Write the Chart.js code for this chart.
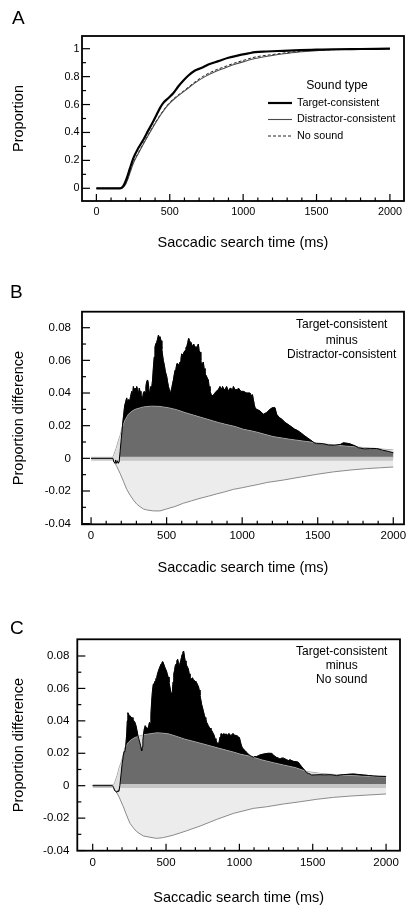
<!DOCTYPE html>
<html>
<head>
<meta charset="utf-8">
<script src="https://cdn.jsdelivr.net/npm/chart.js@4.4.1/dist/chart.umd.min.js"></script>
<style>
  html, body { margin: 0; padding: 0; background: #fff; }
  body { width: 406px; height: 910px; position: relative; overflow: hidden; }
  canvas { position: absolute; left: 0; }
</style>
</head>
<body>
<canvas id="chartA" width="406" height="260" style="top:0px"></canvas>
<canvas id="chartB" width="406" height="310" style="top:270px"></canvas>
<canvas id="chartC" width="406" height="330" style="top:580px"></canvas>
<script>
// ---- tick values / labels ----
const xTicks = [0, 500, 1000, 1500, 2000];
const xTickLabels = ["0", "500", "1000", "1500", "2000"];
const xMinor = [100, 200, 300, 400, 600, 700, 800, 900, 1100, 1200, 1300, 1400, 1600, 1700, 1800, 1900];
const propTicks = [0, 0.2, 0.4, 0.6, 0.8, 1];
const propTickLabels = ["0", "0.2", "0.4", "0.6", "0.8", "1"];
const propMinor = [0.1, 0.3, 0.5, 0.7, 0.9];
const diffTicks = [-0.04, -0.02, 0, 0.02, 0.04, 0.06, 0.08];
const diffTickLabels = ["-0.04", "-0.02", "0", "0.02", "0.04", "0.06", "0.08"];
const diffMinor = [-0.03, -0.01, 0.01, 0.03, 0.05, 0.07];

// ---- panel A: cumulative proportions ----
const tcMs = [0, 161, 184, 207, 229, 252, 286, 320, 354, 388, 411, 434, 456, 491, 525, 559, 593, 627, 672, 718, 763, 831, 899, 967, 1035, 1081, 1160, 1274, 1387, 1500, 1614, 1800, 2000];
const tcProp = [0, 0, 0.017, 0.072, 0.144, 0.216, 0.288, 0.348, 0.415, 0.48, 0.528, 0.576, 0.612, 0.647, 0.683, 0.731, 0.772, 0.808, 0.844, 0.863, 0.887, 0.911, 0.935, 0.952, 0.966, 0.975, 0.98, 0.985, 0.99, 0.993, 0.996, 0.998, 1.0];
const dcMs = [0, 170, 200, 252, 286, 354, 422, 468, 491, 536, 604, 672, 740, 808, 876, 944, 1013, 1081, 1200, 1300, 1400, 1500, 1700, 2000];
const dcProp = [0, 0, 0.03, 0.18, 0.25, 0.38, 0.5, 0.57, 0.6, 0.645, 0.7, 0.755, 0.8, 0.835, 0.862, 0.888, 0.91, 0.93, 0.952, 0.966, 0.978, 0.986, 0.994, 1.0];
const nsMs = [0, 170, 200, 252, 286, 354, 422, 468, 491, 536, 604, 672, 740, 808, 876, 944, 1013, 1081, 1200, 1300, 1400, 1500, 1700, 2000];
const nsProp = [0, 0, 0.035, 0.185, 0.255, 0.385, 0.505, 0.575, 0.605, 0.65, 0.705, 0.762, 0.81, 0.845, 0.872, 0.898, 0.92, 0.94, 0.958, 0.972, 0.982, 0.988, 0.995, 1.0];

// ---- panel B: target-consistent minus distractor-consistent ----
const bDiffMs = [0, 145, 150, 158, 163, 168, 175, 180, 186, 192, 200, 208, 215, 222, 230, 236, 242, 247, 255, 262, 269, 275, 280, 286, 291, 297, 302, 308, 313, 319, 324, 330, 335, 340, 346, 352, 357, 363, 368, 374, 379, 385, 390, 396, 401, 407, 412, 418, 423, 428, 434, 440, 446, 450, 456, 463, 468, 472, 478, 485, 492, 501, 506, 512, 518, 523, 528, 534, 540, 545, 550, 556, 562, 568, 573, 580, 589, 595, 600, 607, 615, 622, 628, 633, 640, 646, 652, 657, 662, 668, 673, 679, 684, 690, 699, 705, 710, 715, 721, 726, 732, 737, 743, 748, 754, 760, 770, 776, 781, 787, 792, 798, 812, 828, 842, 853, 864, 870, 881, 892, 897, 909, 920, 937, 942, 953, 970, 975, 992, 1008, 1030, 1052, 1063, 1068, 1074, 1080, 1085, 1096, 1118, 1140, 1162, 1184, 1200, 1217, 1228, 1245, 1262, 1284, 1300, 1323, 1345, 1367, 1390, 1410, 1433, 1455, 1477, 1493, 1530, 1570, 1610, 1650, 1670, 1710, 1750, 1770, 1810, 1850, 1890, 1930, 1970, 2000];
const bDiff = [0, 0, -0.002, -0.003, -0.001, -0.003, -0.0015, -0.003, -0.002, 0.004, 0.012, 0.02, 0.026, 0.032, 0.035, 0.037, 0.034, 0.036, 0.035, 0.038, 0.041, 0.039, 0.044, 0.041, 0.043, 0.04, 0.044, 0.042, 0.039, 0.043, 0.041, 0.037, 0.038, 0.036, 0.04, 0.041, 0.04, 0.044, 0.047, 0.048, 0.046, 0.04, 0.041, 0.044, 0.043, 0.048, 0.055, 0.062, 0.068, 0.07, 0.071, 0.073, 0.0755, 0.074, 0.0745, 0.072, 0.067, 0.064, 0.06, 0.057, 0.053, 0.05, 0.047, 0.044, 0.042, 0.04, 0.041, 0.043, 0.046, 0.048, 0.051, 0.054, 0.055, 0.058, 0.058, 0.057, 0.059, 0.061, 0.064, 0.063, 0.065, 0.066, 0.068, 0.068, 0.071, 0.0735, 0.072, 0.071, 0.071, 0.069, 0.068, 0.07, 0.069, 0.068, 0.068, 0.069, 0.07, 0.066, 0.065, 0.06, 0.057, 0.058, 0.059, 0.055, 0.051, 0.051, 0.049, 0.048, 0.044, 0.041, 0.04, 0.038, 0.039, 0.041, 0.042, 0.044, 0.042, 0.044, 0.042, 0.043, 0.044, 0.041, 0.043, 0.042, 0.044, 0.042, 0.042, 0.043, 0.041, 0.041, 0.04, 0.04, 0.038, 0.039, 0.036, 0.033, 0.031, 0.03, 0.029, 0.027, 0.028, 0.03, 0.031, 0.031, 0.027, 0.025, 0.024, 0.022, 0.021, 0.0195, 0.018, 0.017, 0.0155, 0.014, 0.0125, 0.011, 0.0095, 0.009, 0.009, 0.0082, 0.008, 0.0085, 0.0095, 0.009, 0.0075, 0.0065, 0.0058, 0.006, 0.006, 0.005, 0.0042, 0.0034];
const bHiMs = [0, 140, 150, 165, 181, 192, 203, 214, 225, 247, 270, 291, 346, 401, 456, 512, 567, 622, 677, 732, 787, 842, 897, 953, 1008, 1052, 1100, 1206, 1316, 1427, 1537, 1647, 1757, 1868, 1950, 2000];
const bHi = [0, 0, 0.002, 0.006, 0.011, 0.014, 0.018, 0.021, 0.0235, 0.027, 0.0288, 0.03, 0.0315, 0.032, 0.0318, 0.031, 0.0298, 0.028, 0.0265, 0.025, 0.0235, 0.022, 0.0207, 0.0195, 0.0178, 0.017, 0.016, 0.0133, 0.0117, 0.0103, 0.009, 0.0078, 0.007, 0.0062, 0.0055, 0.0051];
const bLoMs = [0, 140, 148, 170, 192, 214, 236, 258, 280, 302, 324, 346, 368, 412, 456, 500, 555, 611, 666, 721, 776, 831, 886, 942, 1000, 1052, 1107, 1163, 1272, 1384, 1493, 1603, 1713, 1823, 1910, 2000];
const bLo = [0, 0, -0.001, -0.005, -0.0092, -0.014, -0.019, -0.0225, -0.0255, -0.028, -0.0296, -0.031, -0.0316, -0.0322, -0.0322, -0.031, -0.0295, -0.0275, -0.026, -0.0245, -0.0232, -0.0218, -0.0205, -0.019, -0.018, -0.017, -0.016, -0.0148, -0.0133, -0.0115, -0.0098, -0.0083, -0.0072, -0.0063, -0.0058, -0.0053];

// ---- panel C: target-consistent minus no sound ----
const cDiffMs = [0, 135, 142, 150, 158, 165, 172, 178, 185, 192, 200, 208, 214, 220, 226, 232, 236, 240, 245, 250, 256, 262, 268, 274, 280, 288, 295, 302, 308, 314, 320, 326, 330, 334, 338, 342, 347, 352, 358, 364, 370, 376, 382, 387, 392, 397, 402, 407, 413, 419, 425, 431, 436, 442, 447, 453, 459, 466, 472, 478, 484, 490, 496, 502, 508, 514, 520, 526, 532, 538, 543, 548, 553, 558, 563, 568, 574, 579, 584, 589, 594, 600, 605, 610, 615, 620, 625, 630, 636, 641, 647, 652, 658, 663, 669, 675, 681, 687, 692, 698, 703, 709, 715, 720, 726, 731, 737, 743, 749, 754, 760, 766, 771, 777, 783, 788, 794, 800, 806, 811, 817, 823, 828, 834, 840, 845, 851, 857, 862, 868, 874, 880, 886, 891, 897, 903, 909, 914, 920, 926, 932, 937, 943, 955, 960, 966, 978, 983, 995, 1000, 1007, 1013, 1019, 1025, 1032, 1040, 1050, 1060, 1073, 1085, 1095, 1105, 1118, 1130, 1141, 1164, 1197, 1220, 1232, 1243, 1254, 1266, 1277, 1288, 1300, 1311, 1322, 1334, 1345, 1356, 1368, 1390, 1402, 1413, 1425, 1436, 1448, 1459, 1470, 1482, 1493, 1520, 1550, 1580, 1618, 1640, 1663, 1686, 1709, 1740, 1777, 1800, 1845, 1880, 1913, 1950, 2000];
const cDiff = [0, 0, -0.001, -0.003, -0.0035, -0.004, -0.003, -0.0035, 0, 0.006, 0.013, 0.018, 0.021, 0.0215, 0.025, 0.032, 0.04, 0.045, 0.044, 0.043, 0.043, 0.042, 0.042, 0.041, 0.04, 0.039, 0.037, 0.034, 0.031, 0.029, 0.027, 0.025, 0.023, 0.0215, 0.024, 0.028, 0.032, 0.035, 0.037, 0.036, 0.036, 0.035, 0.037, 0.039, 0.038, 0.044, 0.052, 0.058, 0.0625, 0.063, 0.0645, 0.066, 0.0665, 0.069, 0.0705, 0.072, 0.0735, 0.075, 0.076, 0.0765, 0.075, 0.0735, 0.072, 0.071, 0.069, 0.067, 0.064, 0.061, 0.058, 0.056, 0.058, 0.064, 0.069, 0.071, 0.074, 0.075, 0.077, 0.078, 0.076, 0.074, 0.075, 0.077, 0.079, 0.081, 0.0825, 0.083, 0.08, 0.077, 0.076, 0.074, 0.073, 0.072, 0.069, 0.067, 0.066, 0.066, 0.0665, 0.065, 0.065, 0.0645, 0.064, 0.0635, 0.062, 0.0615, 0.059, 0.056, 0.053, 0.05, 0.048, 0.046, 0.044, 0.042, 0.041, 0.039, 0.038, 0.037, 0.036, 0.0355, 0.035, 0.034, 0.033, 0.032, 0.031, 0.029, 0.028, 0.027, 0.026, 0.0256, 0.027, 0.03, 0.032, 0.032, 0.031, 0.032, 0.032, 0.031, 0.032, 0.032, 0.031, 0.032, 0.032, 0.031, 0.031, 0.032, 0.032, 0.031, 0.031, 0.03, 0.03, 0.0297, 0.027, 0.025, 0.0235, 0.023, 0.022, 0.0215, 0.0205, 0.0195, 0.0185, 0.018, 0.0175, 0.018, 0.018, 0.0185, 0.019, 0.0195, 0.02, 0.0199, 0.019, 0.018, 0.0174, 0.017, 0.0164, 0.017, 0.017, 0.0165, 0.016, 0.0155, 0.016, 0.0155, 0.015, 0.0148, 0.0144, 0.013, 0.0117, 0.0105, 0.0092, 0.008, 0.0076, 0.0072, 0.0066, 0.0067, 0.0068, 0.0067, 0.0068, 0.0066, 0.0062, 0.0066, 0.0068, 0.007, 0.0072, 0.007, 0.0066, 0.0063, 0.006, 0.0058, 0.0057];
const cHiMs = [0, 140, 150, 165, 180, 197, 210, 220, 243, 265, 288, 345, 402, 436, 470, 516, 570, 629, 690, 743, 800, 857, 915, 970, 1004, 1072, 1150, 1232, 1300, 1380, 1459, 1550, 1686, 1800, 1900, 2000];
const cHi = [0, 0, 0.002, 0.006, 0.011, 0.0154, 0.02, 0.0236, 0.0267, 0.0285, 0.0297, 0.0314, 0.0322, 0.0326, 0.0325, 0.032, 0.0305, 0.0287, 0.0273, 0.026, 0.0246, 0.0232, 0.0218, 0.0205, 0.0195, 0.0182, 0.016, 0.0142, 0.0128, 0.0112, 0.0088, 0.0076, 0.0066, 0.0061, 0.0057, 0.0053];
const cLoMs = [0, 140, 152, 180, 209, 230, 254, 277, 300, 345, 391, 436, 482, 550, 641, 732, 845, 959, 1095, 1186, 1300, 1414, 1527, 1641, 1755, 1868, 2000];
const cLo = [0, 0, -0.002, -0.007, -0.013, -0.018, -0.0232, -0.026, -0.0284, -0.031, -0.0318, -0.0325, -0.032, -0.0305, -0.0278, -0.0249, -0.0208, -0.0171, -0.014, -0.013, -0.0113, -0.0099, -0.0084, -0.0072, -0.0064, -0.0058, -0.0051];

// light strip around zero
const bandMs = [0, 2000];
const bandHi = [0.001, 0.001];
const bandLo = [-0.0015, -0.0015];

const FONT = "'Liberation Sans', Arial, Helvetica, sans-serif";
Chart.defaults.font.family = FONT;
Chart.defaults.color = "#000";
Chart.defaults.animation = false;

const pts = (xs, ys) => xs.map((x, i) => ({ x: x, y: ys[i] }));

// frame, inward ticks, panel letter, notes and legend
const decor = {
  id: "decor",
  afterDatasetsDraw(chart, args, o) {
    const { ctx, chartArea: a, scales: { x, y } } = chart;
    ctx.save();
    ctx.strokeStyle = "#000";
    ctx.lineWidth = 1.2;
    const seg = (x1, y1, x2, y2) => { ctx.beginPath(); ctx.moveTo(x1, y1); ctx.lineTo(x2, y2); ctx.stroke(); };
    o.xMajor.forEach(v => { const p = x.getPixelForValue(v); seg(p, a.bottom, p, a.bottom - 7); });
    o.xMinor.forEach(v => { const p = x.getPixelForValue(v); seg(p, a.bottom, p, a.bottom - 3.5); });
    o.yMajor.forEach(v => { const p = y.getPixelForValue(v); seg(a.left, p, a.left + 8, p); });
    o.yMinor.forEach(v => { const p = y.getPixelForValue(v); seg(a.left, p, a.left + 4, p); });
    ctx.lineWidth = 1.8;
    ctx.strokeRect(a.left, a.top, a.right - a.left, a.bottom - a.top);

    ctx.fillStyle = "#000";
    ctx.font = "19px " + FONT;
    ctx.textAlign = "left";
    ctx.textBaseline = "alphabetic";
    ctx.fillText(o.letter.text, o.letter.x, o.letter.y);

    ctx.textAlign = "center";
    ctx.textBaseline = "middle";
    ctx.font = "12px " + FONT;
    (o.notes || []).forEach(n => ctx.fillText(n.text, n.x, n.y));

    if (o.legend) {
      const L = o.legend;
      ctx.font = "12.2px " + FONT;
      ctx.fillText(L.title, L.titleX, L.titleY);
      ctx.font = "10.8px " + FONT;
      ctx.textAlign = "left";
      chart.data.datasets.forEach((ds, i) => {
        const ry = L.rowY[i];
        ctx.strokeStyle = ds.borderColor;
        ctx.lineWidth = ds.borderWidth;
        ctx.setLineDash(ds.borderDash || []);
        seg(L.x1, ry, L.x2, ry);
        ctx.setLineDash([]);
        ctx.fillText(ds.label, L.textX, ry);
      });
    }
    ctx.restore();
  }
};

function scales(p) {
  return {
    x: {
      type: "linear", min: p.xMin, max: p.xMax,
      grid: { display: false, drawTicks: false }, border: { display: false },
      afterBuildTicks: s => { s.ticks = xTicks.map(v => ({ value: v })); },
      afterFit: s => { s.height = p.xAxisH; s.paddingLeft = 0; s.paddingRight = 0; },
      ticks: { padding: p.xPad, font: { size: p.tickSize }, color: "#000", maxRotation: 0,
               callback: (v, i) => xTickLabels[i] },
      title: { display: true, text: "Saccadic search time (ms)", color: "#000",
               font: { size: 14.5 }, padding: { top: 0, bottom: p.xTitlePad } }
    },
    y: {
      type: "linear", min: p.yMin, max: p.yMax,
      grid: { display: false, drawTicks: false }, border: { display: false },
      afterBuildTicks: s => { s.ticks = p.yTicks.map(v => ({ value: v })); },
      afterFit: s => { s.width = p.left; s.paddingTop = 0; s.paddingBottom = 0; },
      ticks: { padding: p.yPad, font: { size: p.tickSize }, color: "#000",
               callback: (v, i) => p.yLabels[i] },
      title: { display: true, text: p.yTitle, color: "#000",
               font: { size: 14.5 }, padding: { top: 10.3, bottom: 0 } }
    }
  };
}

function baseOptions(p, decorOpts) {
  return {
    responsive: false,
    animation: false,
    layout: { padding: { left: 0, right: 406 - p.right, top: p.top, bottom: 0 } },
    elements: { point: { radius: 0 } },
    plugins: { legend: { display: false }, tooltip: { enabled: false }, decor: decorOpts },
    scales: scales(p)
  };
}

// ---- A ----
new Chart(document.getElementById("chartA"), {
  type: "line",
  data: {
    datasets: [
      { label: "Target-consistent", data: pts(tcMs, tcProp), borderColor: "#000", borderWidth: 2.2,
        cubicInterpolationMode: "monotone", fill: false },
      { label: "Distractor-consistent", data: pts(dcMs, dcProp), borderColor: "#4a4a4a", borderWidth: 1.1,
        cubicInterpolationMode: "monotone", fill: false },
      { label: "No sound", data: pts(nsMs, nsProp), borderColor: "#222", borderWidth: 1, borderDash: [3, 2],
        cubicInterpolationMode: "monotone", fill: false }
    ]
  },
  options: baseOptions(
    { xMin: -98, xMax: 2096, yMin: -0.091, yMax: 1.091, left: 82, right: 404, top: 36, xAxisH: 59,
      xPad: 5, yPad: 2.5, tickSize: 10.8, xTitlePad: 8.3, yTicks: propTicks, yLabels: propTickLabels,
      yTitle: "Proportion" },
    { xMajor: xTicks, xMinor: xMinor, yMajor: propTicks, yMinor: propMinor,
      letter: { text: "A", x: 12, y: 23.5 },
      legend: { title: "Sound type", titleX: 337, titleY: 86, rowY: [103, 119.5, 136],
                x1: 268, x2: 292, textX: 297 } }),
  plugins: [decor]
});

function diffDatasets(diffMs, diff, hiMs, hi, loMs, lo) {
  return [
    { data: pts(loMs, lo), fill: "origin", backgroundColor: "#ececec", borderColor: "#8a8a8a",
      borderWidth: 1, order: 6 },
    { data: pts(diffMs, diff), fill: "origin", backgroundColor: "#000", borderColor: "#000",
      borderWidth: 0.6, order: 5 },
    { data: pts(hiMs, hi), fill: "origin", backgroundColor: "#6b6b6b", borderColor: "#a0a0a0",
      borderWidth: 0.8, order: 4 },
    { data: pts(bandMs, bandHi), fill: "+1", backgroundColor: "#c6c6c6", borderWidth: 0, order: 3 },
    { data: pts(bandMs, bandLo), fill: false, borderWidth: 0, borderColor: "rgba(0,0,0,0)", order: 3 },
    { data: pts(diffMs, diff), fill: { target: 2, above: "rgba(0,0,0,0)", below: "#dedede" },
      borderColor: "#000", borderWidth: 1, order: 1 }
  ];
}

// ---- B ----
new Chart(document.getElementById("chartB"), {
  type: "line",
  data: { datasets: diffDatasets(bDiffMs, bDiff, bHiMs, bHi, bLoMs, bLo) },
  options: baseOptions(
    { xMin: -60, xMax: 2071, yMin: -0.0404, yMax: 0.0898, left: 82, right: 404, top: 41.7, xAxisH: 55.7,
      xPad: 5, yPad: 11, tickSize: 11.5, xTitlePad: 3.3, yTicks: diffTicks, yLabels: diffTickLabels,
      yTitle: "Proportion difference" },
    { xMajor: xTicks, xMinor: xMinor, yMajor: diffTicks, yMinor: diffMinor,
      letter: { text: "B", x: 10, y: 28.3 },
      notes: [ { text: "Target-consistent", x: 341.7, y: 55 },
               { text: "minus", x: 341.7, y: 70.5 },
               { text: "Distractor-consistent", x: 341.7, y: 85 } ] }),
  plugins: [decor]
});

// ---- C ----
new Chart(document.getElementById("chartC"), {
  type: "line",
  data: { datasets: diffDatasets(cDiffMs, cDiff, cHiMs, cHi, cLoMs, cLo) },
  options: baseOptions(
    { xMin: -105, xMax: 2095, yMin: -0.0401, yMax: 0.0903, left: 77.3, right: 400, top: 59.3, xAxisH: 59.3,
      xPad: 5.4, yPad: 8, tickSize: 11.5, xTitlePad: 3.3, yTicks: diffTicks, yLabels: diffTickLabels,
      yTitle: "Proportion difference" },
    { xMajor: xTicks, xMinor: xMinor, yMajor: diffTicks, yMinor: diffMinor,
      letter: { text: "C", x: 10, y: 54 },
      notes: [ { text: "Target-consistent", x: 341.7, y: 71.7 },
               { text: "minus", x: 341.7, y: 86 },
               { text: "No sound", x: 341.7, y: 100 } ] }),
  plugins: [decor]
});
</script>
</body>
</html>
